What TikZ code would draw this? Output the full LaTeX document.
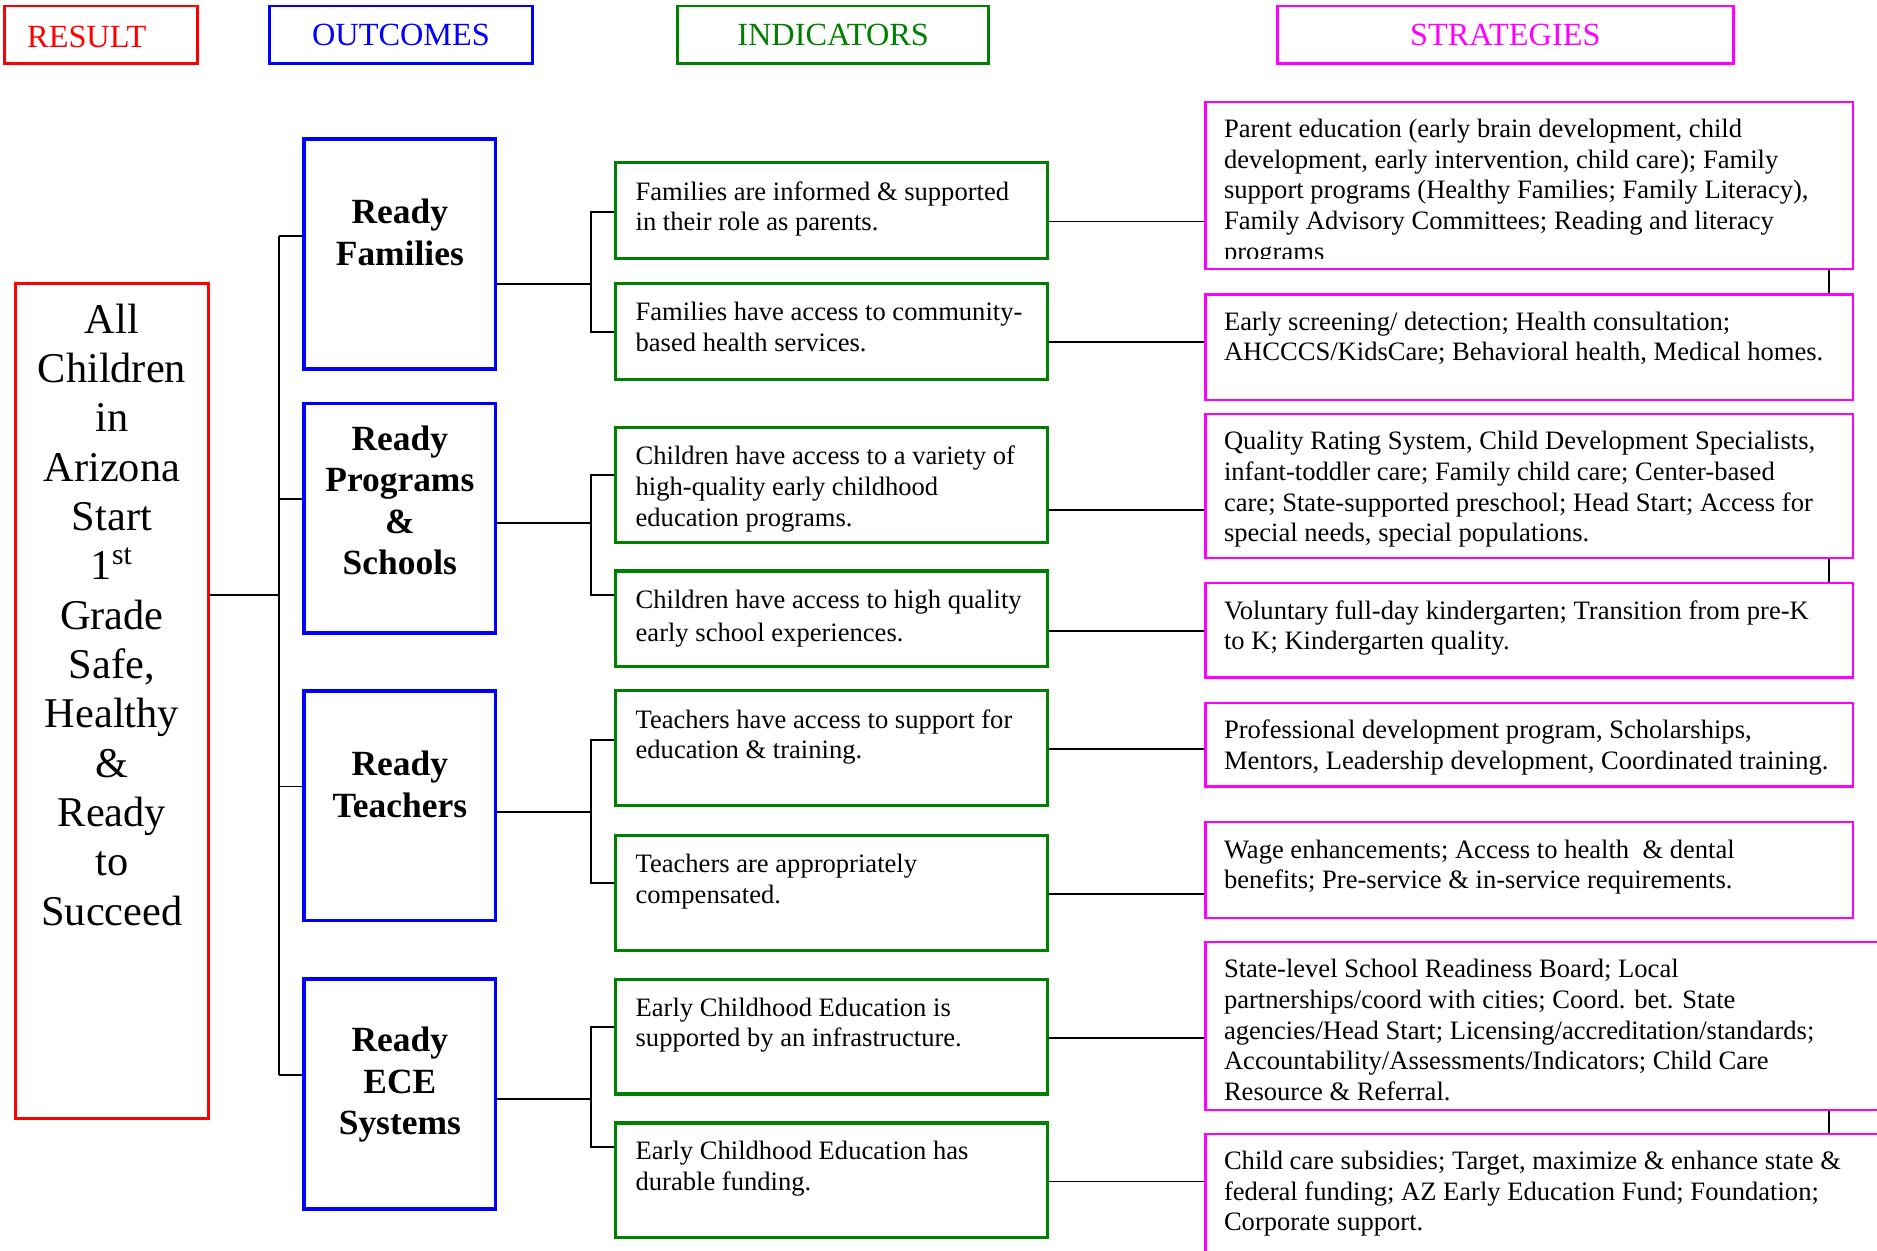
\documentclass[tikz,border=0pt]{standalone}
\usepackage{fontspec}
\setmainfont{Liberation Serif}
\usetikzlibrary{positioning}
\definecolor{indgreen}{RGB}{0,128,0}
\definecolor{strmag}{RGB}{255,0,255}

\begin{document}
\begin{tikzpicture}[x=0.5pt,y=-0.5pt,
		hdr/.style={draw,line width=1.2pt,minimum height=24pt,inner sep=0pt,font=\fontsize{13.5}{16}\selectfont},
		resbox/.style={draw=red,line width=1.3pt,minimum width=80.5pt,minimum height=348.5pt},
		outbox/.style={draw=blue,line width=1.5pt,minimum width=80pt,minimum height=96pt},
		outtxt/.style={align=center,inner sep=0pt,font=\fontsize{14.8}{17.4}\selectfont\bfseries},
		indbox/.style={draw=indgreen,line width=1.4pt,minimum width=180.5pt},
		strbox/.style={draw=strmag,line width=0.9pt,minimum width=270.5pt},
		boxtxt/.style={align=left,inner sep=0pt,font=\fontsize{11.1}{12.8}\selectfont},
		conn/.style={line width=0.8pt}]
		\clip (0,0) rectangle (1568,1045);

		% column heads
		\node[hdr,draw=red,minimum width=80.5pt] (hres) at (84.5,29) {};
		\node[red,inner sep=0pt,font=\fontsize{13.5}{16}\selectfont] (hrestxt) at ([xshift=-6pt,yshift=-0.8pt]hres.center) {RESULT};
		\node[hdr,draw=blue,text=blue,minimum width=110pt] (hout) at (335,29) {OUTCOMES};
		\node[hdr,draw=indgreen,text=indgreen,minimum width=130pt] (hind) at (696,29) {INDICATORS};
		\node[hdr,draw=strmag,text=strmag,minimum width=190.5pt] (hstr) at (1257.5,29) {STRATEGIES};

		% result
		\node[resbox] (res) at (93.5,585.5) {};
		\node[align=center,inner sep=0pt,font=\fontsize{17.7}{20.6}\selectfont] (restxt) at ([yshift=36pt]res.center)
			{All\\Children\\in\\Arizona\\Start\\1\textsuperscript{st}\\Grade\\Safe,\\Healthy\\\&\\Ready\\to\\Succeed};

		% outcomes
		\node[outbox] (fam) at (334,212) {};
		\node[outtxt] (famtxt) at ([yshift=9pt]fam.center) {Ready\\Families};
		\node[outbox] (prog) at (334,433) {};
		\node[outtxt] (progtxt) at ([yshift=7.5pt]prog.center) {Ready\\Programs\\\&\\Schools};
		\node[outbox] (teach) at (334,673) {};
		\node[outtxt] (teachtxt) at ([yshift=9pt]teach.center) {Ready\\Teachers};
		\node[outbox] (ece) at (334,914) {};
		\node[outtxt] (ecetxt) at ([yshift=4pt]ece.center) {Ready\\ECE\\Systems};

		% indicators
		\node[indbox,minimum height=40pt] (i1) at (694.5,176) {};
		\node[boxtxt,below right=8.3pt and 9pt of i1.north west] (i1txt) {Families are informed \& supported\\in their role as parents.};
		\node[indbox,minimum height=40pt] (i2) at (694.5,277) {};
		\node[boxtxt,below right=8.3pt and 9pt of i2.north west] (i2txt) {Families have access to community-\\based health services.};
		\node[indbox,minimum height=48pt] (i3) at (694.5,405) {};
		\node[boxtxt,below right=8.3pt and 9pt of i3.north west] (i3txt) {Children have access to a variety of\\high-quality early childhood\\education programs.};
		\node[indbox,minimum height=40pt] (i4) at (694.5,517) {};
		\node[boxtxt,below right=8.3pt and 9pt of i4.north west,font=\fontsize{11.1}{14}\selectfont] (i4txt) {Children have access to high quality\\early school experiences.};
		\node[indbox,minimum height=48pt] (i5) at (694.5,625) {};
		\node[boxtxt,below right=8.3pt and 9pt of i5.north west] (i5txt) {Teachers have access to support for\\education \& training.};
		\node[indbox,minimum height=48pt] (i6) at (694.5,746) {};
		\node[boxtxt,below right=8.3pt and 9pt of i6.north west] (i6txt) {Teachers are appropriately\\compensated.};
		\node[indbox,minimum height=48pt] (i7) at (694.5,866) {};
		\node[boxtxt,below right=8.3pt and 9pt of i7.north west] (i7txt) {Early Childhood Education is\\supported by an infrastructure.};
		\node[indbox,minimum height=48pt] (i8) at (694.5,986) {};
		\node[boxtxt,below right=8.3pt and 9pt of i8.north west] (i8txt) {Early Childhood Education has\\durable funding.};

		% strategies
		\node[strbox,minimum height=70pt] (s1) at (1277.5,155) {};
		\begin{scope}
			\clip (s1.north west) rectangle ([yshift=5pt]s1.south east);
			\node[boxtxt,below right=7.5pt and 8pt of s1.north west] (s1txt) {Parent education (early brain development, child\\development, early intervention, child care); Family\\support programs (Healthy Families; Family Literacy),\\Family Advisory Committees; Reading and literacy\\programs};
		\end{scope}
		\node[strbox,minimum height=44pt] (s2) at (1277.5,290) {};
		\node[boxtxt,below right=7.5pt and 8pt of s2.north west] (s2txt) {Early screening/ detection; Health consultation;\\AHCCCS/KidsCare; Behavioral health, Medical homes.};
		\node[strbox,minimum height=60pt] (s3) at (1277.5,406) {};
		\node[boxtxt,below right=7.5pt and 8pt of s3.north west] (s3txt) {Quality Rating System, Child Development Specialists,\\infant-toddler care; Family child care; Center-based\\care; State-supported preschool; Head Start; Access for\\special needs, special populations.};
		\node[strbox,minimum height=39.5pt] (s4) at (1277.5,526.5) {};
		\node[boxtxt,below right=7.5pt and 8pt of s4.north west] (s4txt) {Voluntary full-day kindergarten; Transition from pre-K\\to K; Kindergarten quality.};
		\node[strbox,minimum height=35pt] (s5) at (1277.5,622) {};
		\node[boxtxt,below right=7.5pt and 8pt of s5.north west] (s5txt) {Professional development program, Scholarships,\\Mentors, Leadership development, Coordinated training.};
		\node[strbox,minimum height=40pt] (s6) at (1277.5,727) {};
		\node[boxtxt,below right=7.5pt and 8pt of s6.north west] (s6txt) {Wage enhancements; Access to health \ \& dental\\benefits; Pre-service \& in-service requirements.};
		\node[strbox,minimum width=291.5pt,minimum height=70pt] (s7) at (1298.5,857) {};
		\node[boxtxt,below right=7.5pt and 8pt of s7.north west] (s7txt) {State-level School Readiness Board; Local\\partnerships/coord with cities; Coord. bet. State\\agencies/Head Start; Licensing/accreditation/standards;\\Accountability/Assessments/Indicators; Child Care\\Resource \& Referral.};
		\node[strbox,minimum width=291.5pt,minimum height=59pt] (s8) at (1298.5,1006) {};
		\node[boxtxt,below right=7.5pt and 8pt of s8.north west] (s8txt) {Child care subsidies; Target, maximize \& enhance state \&\\federal funding; AZ Early Education Fund; Foundation;\\Corporate support.};

		% connectors
		\coordinate (t0) at (233,497);
		\coordinate (bx) at (494,0);
		\coordinate (sx) at (1528,0);
		\draw[conn] (res.east |- t0) -- (t0);
		\draw[conn] ([yshift=7.5pt]fam.west -| t0) -- ([yshift=8pt]ece.west -| t0);
		\foreach \o/\d in {fam/7.5pt, prog/8pt, teach/8pt, ece/8pt}
			\draw[conn] ([yshift=\d]\o.west) -- ([yshift=\d]\o.west -| t0);
		\foreach \o/\a/\b/\d/\da/\db in {fam/i1/i2/-12.5pt/-0.5pt/0pt, prog/i3/i4/-2pt/4pt/10pt, teach/i5/i6/-2.5pt/3.5pt/4pt, ece/i7/i8/-2pt/4pt/14pt}{
			\draw[conn] ([yshift=\d]\o.east) -- ([yshift=\d]\o.east -| bx);
			\draw[conn] ([yshift=\da]\a.west) -- ([yshift=\da]\a.west -| bx) -- ([yshift=\db]\b.west -| bx) -- ([yshift=\db]\b.west);
		}
		\foreach \i/\s/\d in {i1/s1/-4.5pt, i2/s2/-4.5pt, i3/s3/-10.5pt, i4/s4/-5pt, i5/s5/-0.5pt, i6/s6/-0.5pt, i7/s7/-0.5pt, i8/s8/-0.5pt}
			\draw[conn] ([yshift=\d]\i.east) -- ([yshift=\d]\i.east -| \s.west);
		\draw[conn] (s1.south -| sx) -- (s2.north -| sx);
		\draw[conn] (s3.south -| sx) -- (s4.north -| sx);
		\draw[conn] (s7.south -| sx) -- (s8.north -| sx);
	\end{tikzpicture}
\end{document}
